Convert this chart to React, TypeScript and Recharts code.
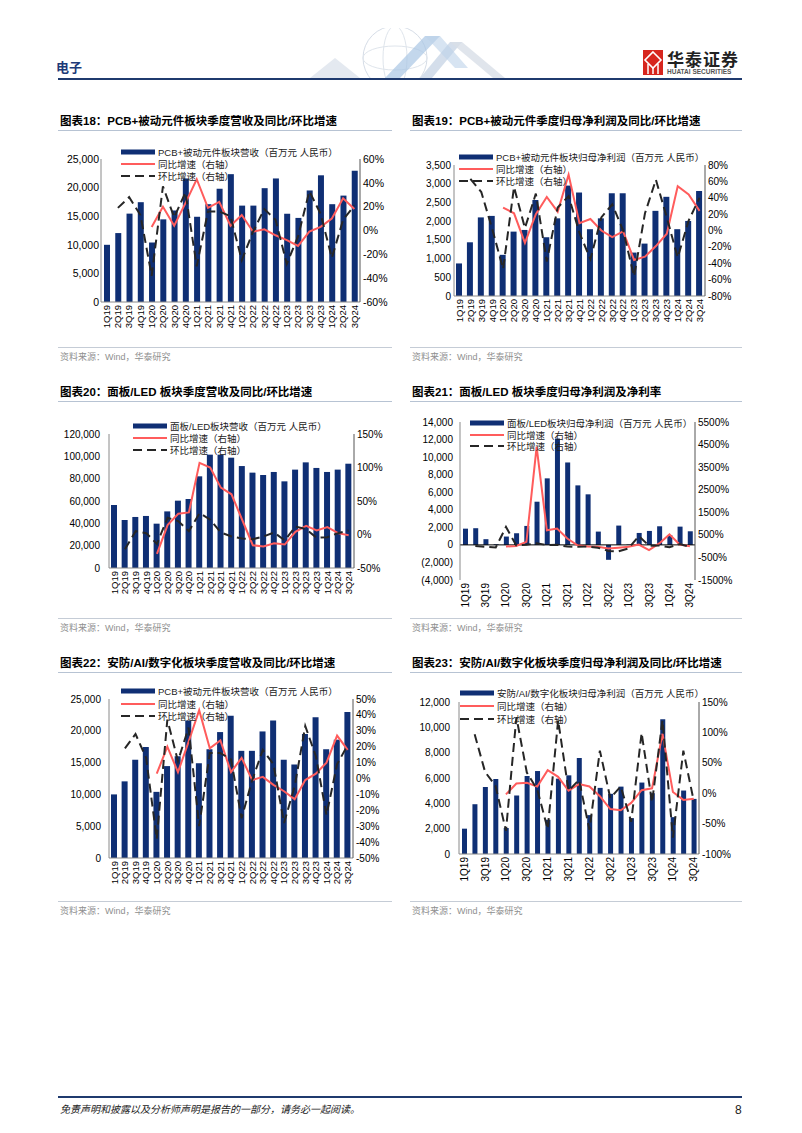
import React from 'react';
import { ComposedChart, Bar, Line, XAxis, YAxis, ReferenceLine } from 'recharts';

// quarters shared by every panel
const quarters = [
  '1Q19', '2Q19', '3Q19', '4Q19', '1Q20', '2Q20', '3Q20', '4Q20', '1Q21', '2Q21', '3Q21', '4Q21',
  '1Q22', '2Q22', '3Q22', '4Q22', '1Q23', '2Q23', '3Q23', '4Q23', '1Q24', '2Q24', '3Q24',
];

// PCB+被动元件 revenue (图表18 / 图表22)
const pcbRevenue = [10000, 12050, 15450, 17450, 10400, 14450, 16000, 21600, 14900, 17100, 19800, 22350, 16850, 16850, 19900, 21600, 15450, 14700, 19500, 22150, 17100, 18600, 22950];
const pcbRevenueYoy = [null, null, null, null, 3, 20, 4, 23, 43, 19, 24, 4, 13, -1, 1, -4, -8, -13, -1, 3, 10, 27, 18];
const pcbRevenueQoq = [null, 19, 28, 13, -38, 37, 11, 32, -30, 16, 16, 12, -25, -1, 18, 9, -28, -5, 33, 14, -23, 9, 21];

// PCB+被动元件 net profit (图表19)
const pcbProfit = [870, 1435, 2100, 2140, 1100, 1720, 1765, 2565, 1570, 2075, 2950, 2765, 1785, 2075, 2745, 2745, 1160, 1400, 2275, 2650, 1785, 2005, 2805];
const pcbProfitYoy = [null, null, null, null, 28, 21, -15, 20, 41, 23, 68, 9, 14, 0, -8, -1, -36, -32, -19, -4, 54, 44, 24];
const pcbProfitQoq = [null, 63, 47, 2, -47, 53, 3, 45, -38, 28, 42, -3, -35, 16, 32, 0, -56, 21, 62, 16, -33, 12, 40];

// 面板/LED revenue (图表20)
const panelRevenue = [56400, 43000, 45700, 46600, 39700, 50700, 60300, 61800, 82100, 101500, 101500, 98800, 91300, 85400, 83300, 86000, 77600, 88100, 94600, 89600, 86000, 88100, 93400];
const panelRevenueYoy = [null, null, null, null, -29, 14, 31, 33, 107, 100, 70, 60, 22, -16, -18, -13, -15, 4, 13, 6, 11, 2, -1];
const panelRevenueQoq = [null, -22, 5, 2, -14, 25, 20, 5, 32, 22, 3, -3, -6, -7, -3, 3, -9, 12, 8, -5, -4, 2, 6];

// 面板/LED net profit (图表21)
const panelProfit = [1850, 1900, 650, 80, 950, 1330, 2160, 4920, 7580, 12120, 9390, 6780, 5760, 1515, -1700, 2200, 50, 1360, 1590, 2120, 1100, 2080, 1550];
const panelProfitYoy = [null, null, null, null, -20, 10, 190, 4400, 700, 780, 340, 40, -20, -30, -100, -70, -30, 70, -180, 120, 520, 70, 0];
const panelProfitQoq = [null, 5, -30, -60, 850, 40, 60, 130, 50, 60, -20, -30, -15, -70, -210, -230, -100, 450, 20, 30, -50, 90, -25];

// 安防/AI/数字化 net profit (图表23)
const secProfit = [2000, 3930, 5290, 5920, 2050, 4610, 6160, 6550, 2700, 5950, 6210, 7580, 3070, 5220, 4750, 5320, 2830, 5640, 4800, 10640, 2910, 5010, 4350];
const secProfitYoy = [null, null, null, null, -2, 16, 17, 11, 38, 27, 4, 15, 11, -5, -26, -28, -16, 5, 8, 98, 2, -11, -9];
const secProfitQoq = [null, 97, 35, 12, -62, 125, 34, 6, -59, 120, 4, 22, -60, 70, -8, 11, -47, 99, -15, 120, -73, 70, -13];

// axis ticks
const pcbRevTicks = [0, 5000, 10000, 15000, 20000, 25000];
const pct60Ticks = [-60, -40, -20, 0, 20, 40, 60];
const pcbProfitTicks = [0, 500, 1000, 1500, 2000, 2500, 3000, 3500];
const pct80Ticks = [-80, -60, -40, -20, 0, 20, 40, 60, 80];
const panelRevTicks = [0, 20000, 40000, 60000, 80000, 100000, 120000];
const pct150Ticks = [-50, 0, 50, 100, 150];
const panelProfitTicks = [-4000, -2000, 0, 2000, 4000, 6000, 8000, 10000, 12000, 14000];
const pct5500Ticks = [-1500, -500, 500, 1500, 2500, 3500, 4500, 5500];
const pct50Ticks = [-50, -40, -30, -20, -10, 0, 10, 20, 30, 40, 50];
const secProfitTicks = [0, 2000, 4000, 6000, 8000, 10000, 12000];
const pctSecTicks = [-100, -50, 0, 50, 100, 150];

const NAVY = '#0f2f74';
const RED = '#ff5c5c';
const DASH = '#262626';
const AXIS = '#8a8a8a';
const FONT = "'Liberation Sans', Arial, 'Noto Sans CJK SC', sans-serif";
const CJK = "'Liberation Sans', Arial, 'Noto Sans CJK SC', sans-serif";

const rowsOf = (bars: number[], yoy: (number | null)[], qoq: (number | null)[]) =>
  quarters.map((q, i) => ({ q, bar: bars[i], yoy: yoy[i], qoq: qoq[i] }));

const fmtNum = (v: number) =>
  v < 0 ? `(${Math.abs(v).toLocaleString('en-US')})` : v.toLocaleString('en-US');
const fmtPct = (v: number) => `${v}%`;

const RotTick = (props: any) => {
  const { x, y, payload, size } = props;
  return (
    <text
      x={x}
      y={y}
      transform={`rotate(-90, ${x}, ${y})`}
      textAnchor="end"
      dy="0.35em"
      fontSize={size}
      fontFamily={FONT}
      fill="#000"
    >
      {payload.value}
    </text>
  );
};

interface PanelProps {
  rows: any[];
  l: number;
  r: number;
  t: number;
  b: number;
  leftTicks: number[];
  rightTicks: number[];
  leftGap: number;
  yFont: number;
  xFont: number;
  barSize: number;
  every?: number;
  zeroLine?: boolean;
}

function Panel(p: PanelProps) {
  const YL = 70;
  const YR = 55;
  const MT = 10;
  const XH = 40;
  const w = YL + (p.r - p.l) + YR;
  const h = MT + (p.b - p.t) + XH;
  const lt = p.leftTicks;
  const rt = p.rightTicks;
  return (
    <div style={{ position: 'absolute', left: p.l - YL, top: p.t - MT }}>
      <ComposedChart width={w} height={h} data={p.rows} margin={{ top: MT, right: 0, bottom: 0, left: 0 }}>
        <XAxis
          dataKey="q"
          height={XH}
          interval={p.every ?? 0}
          tick={<RotTick size={p.xFont} />}
          tickLine={false}
          tickSize={0}
          tickMargin={3}
          axisLine={p.zeroLine ? false : { stroke: AXIS }}
        />
        <YAxis
          yAxisId="l"
          orientation="left"
          width={YL}
          domain={[lt[0], lt[lt.length - 1]]}
          ticks={lt}
          interval={0}
          tickFormatter={fmtNum}
          tickLine={false}
          tickSize={0}
          tickMargin={p.leftGap}
          axisLine={{ stroke: AXIS }}
          tick={{ fill: '#000', fontSize: p.yFont, fontFamily: FONT }}
        />
        <YAxis
          yAxisId="r"
          orientation="right"
          width={YR}
          domain={[rt[0], rt[rt.length - 1]]}
          ticks={rt}
          interval={0}
          tickFormatter={fmtPct}
          tickLine={false}
          tickSize={0}
          tickMargin={3}
          axisLine={{ stroke: '#555' }}
          tick={{ fill: '#000', fontSize: p.yFont, fontFamily: FONT }}
        />
        <Bar yAxisId="l" dataKey="bar" fill={NAVY} barSize={p.barSize} isAnimationActive={false} />
        {p.zeroLine && <ReferenceLine yAxisId="l" y={0} stroke="#000" strokeWidth={1} />}
        <Line yAxisId="r" dataKey="yoy" stroke={RED} strokeWidth={2} dot={false} isAnimationActive={false} />
        <Line
          yAxisId="r"
          dataKey="qoq"
          stroke={DASH}
          strokeWidth={2}
          strokeDasharray="9 5"
          dot={false}
          isAnimationActive={false}
        />
      </ComposedChart>
    </div>
  );
}

function LegendBox({ x, y, gap, label }: { x: number; y: number; gap: number; label: string }) {
  const items = [
    { kind: 'bar', text: label },
    { kind: 'red', text: '同比增速（右轴）' },
    { kind: 'dash', text: '环比增速（右轴）' },
  ];
  return (
    <>
      {items.map((it, i) => (
        <div
          key={i}
          style={{
            position: 'absolute',
            left: x,
            top: y + i * gap - 6,
            height: 12,
            display: 'flex',
            alignItems: 'center',
            whiteSpace: 'nowrap',
            fontSize: 9.5,
            fontFamily: CJK,
            color: '#222',
          }}
        >
          <svg width={34} height={8}>
            {it.kind === 'bar' && <rect x={0} y={1.5} width={34} height={5} fill={NAVY} />}
            {it.kind === 'red' && <line x1={0} x2={34} y1={4} y2={4} stroke={RED} strokeWidth={2} />}
            {it.kind === 'dash' && (
              <line x1={0} x2={34} y1={4} y2={4} stroke={DASH} strokeWidth={2} strokeDasharray="9 5" />
            )}
          </svg>
          <span style={{ marginLeft: 3 }}>{it.text}</span>
        </div>
      ))}
    </>
  );
}

function Txt({ x, y, size, children, style }: any) {
  return (
    <div
      style={{
        position: 'absolute',
        left: x,
        top: y - size * 0.7,
        fontSize: size,
        lineHeight: `${size * 1.4}px`,
        whiteSpace: 'nowrap',
        fontFamily: CJK,
        ...style,
      }}
    >
      {children}
    </div>
  );
}

function HLine({ x1, x2, y, color, w = 1 }: any) {
  return <div style={{ position: 'absolute', left: x1, top: y, width: x2 - x1, height: w, background: color }} />;
}

function Section({ y, titleL, titleR }: { y: number; titleL: string; titleR: string }) {
  return (
    <>
      <Txt x={60} y={y} size={11.5} style={{ fontWeight: 700, color: '#000' }}>{titleL}</Txt>
      <Txt x={412} y={y} size={11.5} style={{ fontWeight: 700, color: '#000' }}>{titleR}</Txt>
      <HLine x1={58} x2={392} y={y + 9} color="#b7c3d3" />
      <HLine x1={410} x2={742} y={y + 9} color="#b7c3d3" />
    </>
  );
}

function Source({ y }: { y: number }) {
  return (
    <>
      <HLine x1={58} x2={392} y={y - 10} color="#c5ccd6" />
      <HLine x1={410} x2={742} y={y - 10} color="#c5ccd6" />
      <Txt x={60} y={y} size={9} style={{ color: '#8f8f8f' }}>资料来源：Wind，华泰研究</Txt>
      <Txt x={412} y={y} size={9} style={{ color: '#8f8f8f' }}>资料来源：Wind，华泰研究</Txt>
    </>
  );
}

export default function App() {
  return (
    <div style={{ position: 'absolute', left: 0, top: 0, width: 802, height: 1133, background: '#fff', overflow: 'hidden' }}>
      {/* header decoration */}
      <svg style={{ position: 'absolute', left: 290, top: 28 }} width={250} height={52}>
        <circle cx={105} cy={30} r={32} fill="none" stroke="#d6dde7" strokeWidth={1} />
        <ellipse cx={105} cy={30} rx={32} ry={12} fill="none" stroke="#dfe5ec" strokeWidth={1} />
        <ellipse cx={105} cy={30} rx={12} ry={32} fill="none" stroke="#dfe5ec" strokeWidth={1} />
        <polygon points="20,50 45,30 70,50" fill="#e4e9f0" />
        <polygon points="95,50 135,8 150,8 110,50" fill="#a9c6e4" opacity={0.7} />
        <polygon points="130,50 160,14 172,14 142,50" fill="#c9d6e6" opacity={0.8} />
        <polygon points="160,14 172,14 215,50 203,50" fill="#d8dee7" opacity={0.8} />
        <polygon points="135,8 150,8 178,40 165,40" fill="#bcd2ea" opacity={0.6} />
      </svg>
      <Txt x={56} y={68} size={13} style={{ color: '#1d3a78', fontWeight: 700 }}>电子</Txt>
      <svg style={{ position: 'absolute', left: 643, top: 50 }} width={20} height={25}>
        <rect x={0} y={0} width={20} height={25} fill="#d7261e" />
        <polygon points="10,2 18,10 10,18 2,10" fill="none" stroke="#fff" strokeWidth={1.6} />
        <line x1={5} y1={14} x2={5} y2={24} stroke="#fff" strokeWidth={1.5} />
        <line x1={10} y1={18} x2={10} y2={24} stroke="#fff" strokeWidth={1.5} />
        <line x1={15} y1={14} x2={15} y2={24} stroke="#fff" strokeWidth={1.5} />
      </svg>
      <Txt x={667} y={61} size={17} style={{ color: '#222', fontWeight: 700, letterSpacing: 1 }}>华泰证券</Txt>
      <Txt x={667} y={72} size={6.5} style={{ color: '#555', fontWeight: 700 }}>HUATAI SECURITIES</Txt>
      <HLine x1={58} x2={742} y={78} color="#1f3a6e" w={2} />

      {/* row 1 */}
      <Section y={121} titleL="图表18：PCB+被动元件板块季度营收及同比/环比增速" titleR="图表19：PCB+被动元件季度归母净利润及同比/环比增速" />
      <Panel rows={rowsOf(pcbRevenue, pcbRevenueYoy, pcbRevenueQoq)} l={101} r={360} t={159} b={302}
        leftTicks={pcbRevTicks} rightTicks={pct60Ticks} leftGap={2} yFont={10.5} xFont={9.5} barSize={6} />
      <LegendBox x={121} y={152} gap={12} label="PCB+被动元件板块营收（百万元 人民币）" />
      <Panel rows={rowsOf(pcbProfit, pcbProfitYoy, pcbProfitQoq)} l={454} r={705} t={165} b={296}
        leftTicks={pcbProfitTicks} rightTicks={pct80Ticks} leftGap={3} yFont={10} xFont={9.5} barSize={6} />
      <LegendBox x={459} y={157} gap={12} label="PCB+被动元件板块归母净利润（百万元 人民币）" />
      <Source y={357} />

      {/* row 2 */}
      <Section y={392} titleL="图表20：面板/LED 板块季度营收及同比/环比增速" titleR="图表21：面板/LED 板块季度归母净利润及净利率" />
      <Panel rows={rowsOf(panelRevenue, panelRevenueYoy, panelRevenueQoq)} l={109} r={354} t={434} b={568}
        leftTicks={panelRevTicks} rightTicks={pct150Ticks} leftGap={9} yFont={10} xFont={9.5} barSize={6} />
      <LegendBox x={133} y={426} gap={12} label="面板/LED板块营收（百万元 人民币）" />
      <Panel rows={rowsOf(panelProfit, panelProfitYoy, panelProfitQoq)} l={460} r={695} t={422} b={580}
        leftTicks={panelProfitTicks} rightTicks={pct5500Ticks} leftGap={7} yFont={10} xFont={10} barSize={5}
        every={1} zeroLine />
      <LegendBox x={470} y={423} gap={11.5} label="面板/LED板块归母净利润（百万元 人民币）" />
      <Source y={628} />

      {/* row 3 */}
      <Section y={663} titleL="图表22：安防/AI/数字化板块季度营收及同比/环比增速" titleR="图表23：安防/AI/数字化板块季度归母净利润及同比/环比增速" />
      <Panel rows={rowsOf(pcbRevenue, pcbRevenueYoy, pcbRevenueQoq)} l={109} r={353} t={699} b={858}
        leftTicks={pcbRevTicks} rightTicks={pct50Ticks} leftGap={8} yFont={10} xFont={9.5} barSize={6} />
      <LegendBox x={121} y={691} gap={12.5} label="PCB+被动元件板块营收（百万元 人民币）" />
      <Panel rows={rowsOf(secProfit, secProfitYoy, secProfitQoq)} l={459} r={699} t={702} b={854}
        leftTicks={secProfitTicks} rightTicks={pctSecTicks} leftGap={9} yFont={10} xFont={10} barSize={5}
        every={1} />
      <LegendBox x={460} y={693} gap={13} label="安防/AI/数字化板块归母净利润（百万元 人民币）" />
      <Source y={911} />

      {/* footer */}
      <HLine x1={58} x2={742} y={1096} color="#1f3a6e" w={2} />
      <Txt x={60} y={1110} size={10} style={{ color: '#222', fontStyle: 'italic' }}>
        免责声明和披露以及分析师声明是报告的一部分，请务必一起阅读。
      </Txt>
      <Txt x={735} y={1110} size={12} style={{ color: '#222' }}>8</Txt>
    </div>
  );
}
